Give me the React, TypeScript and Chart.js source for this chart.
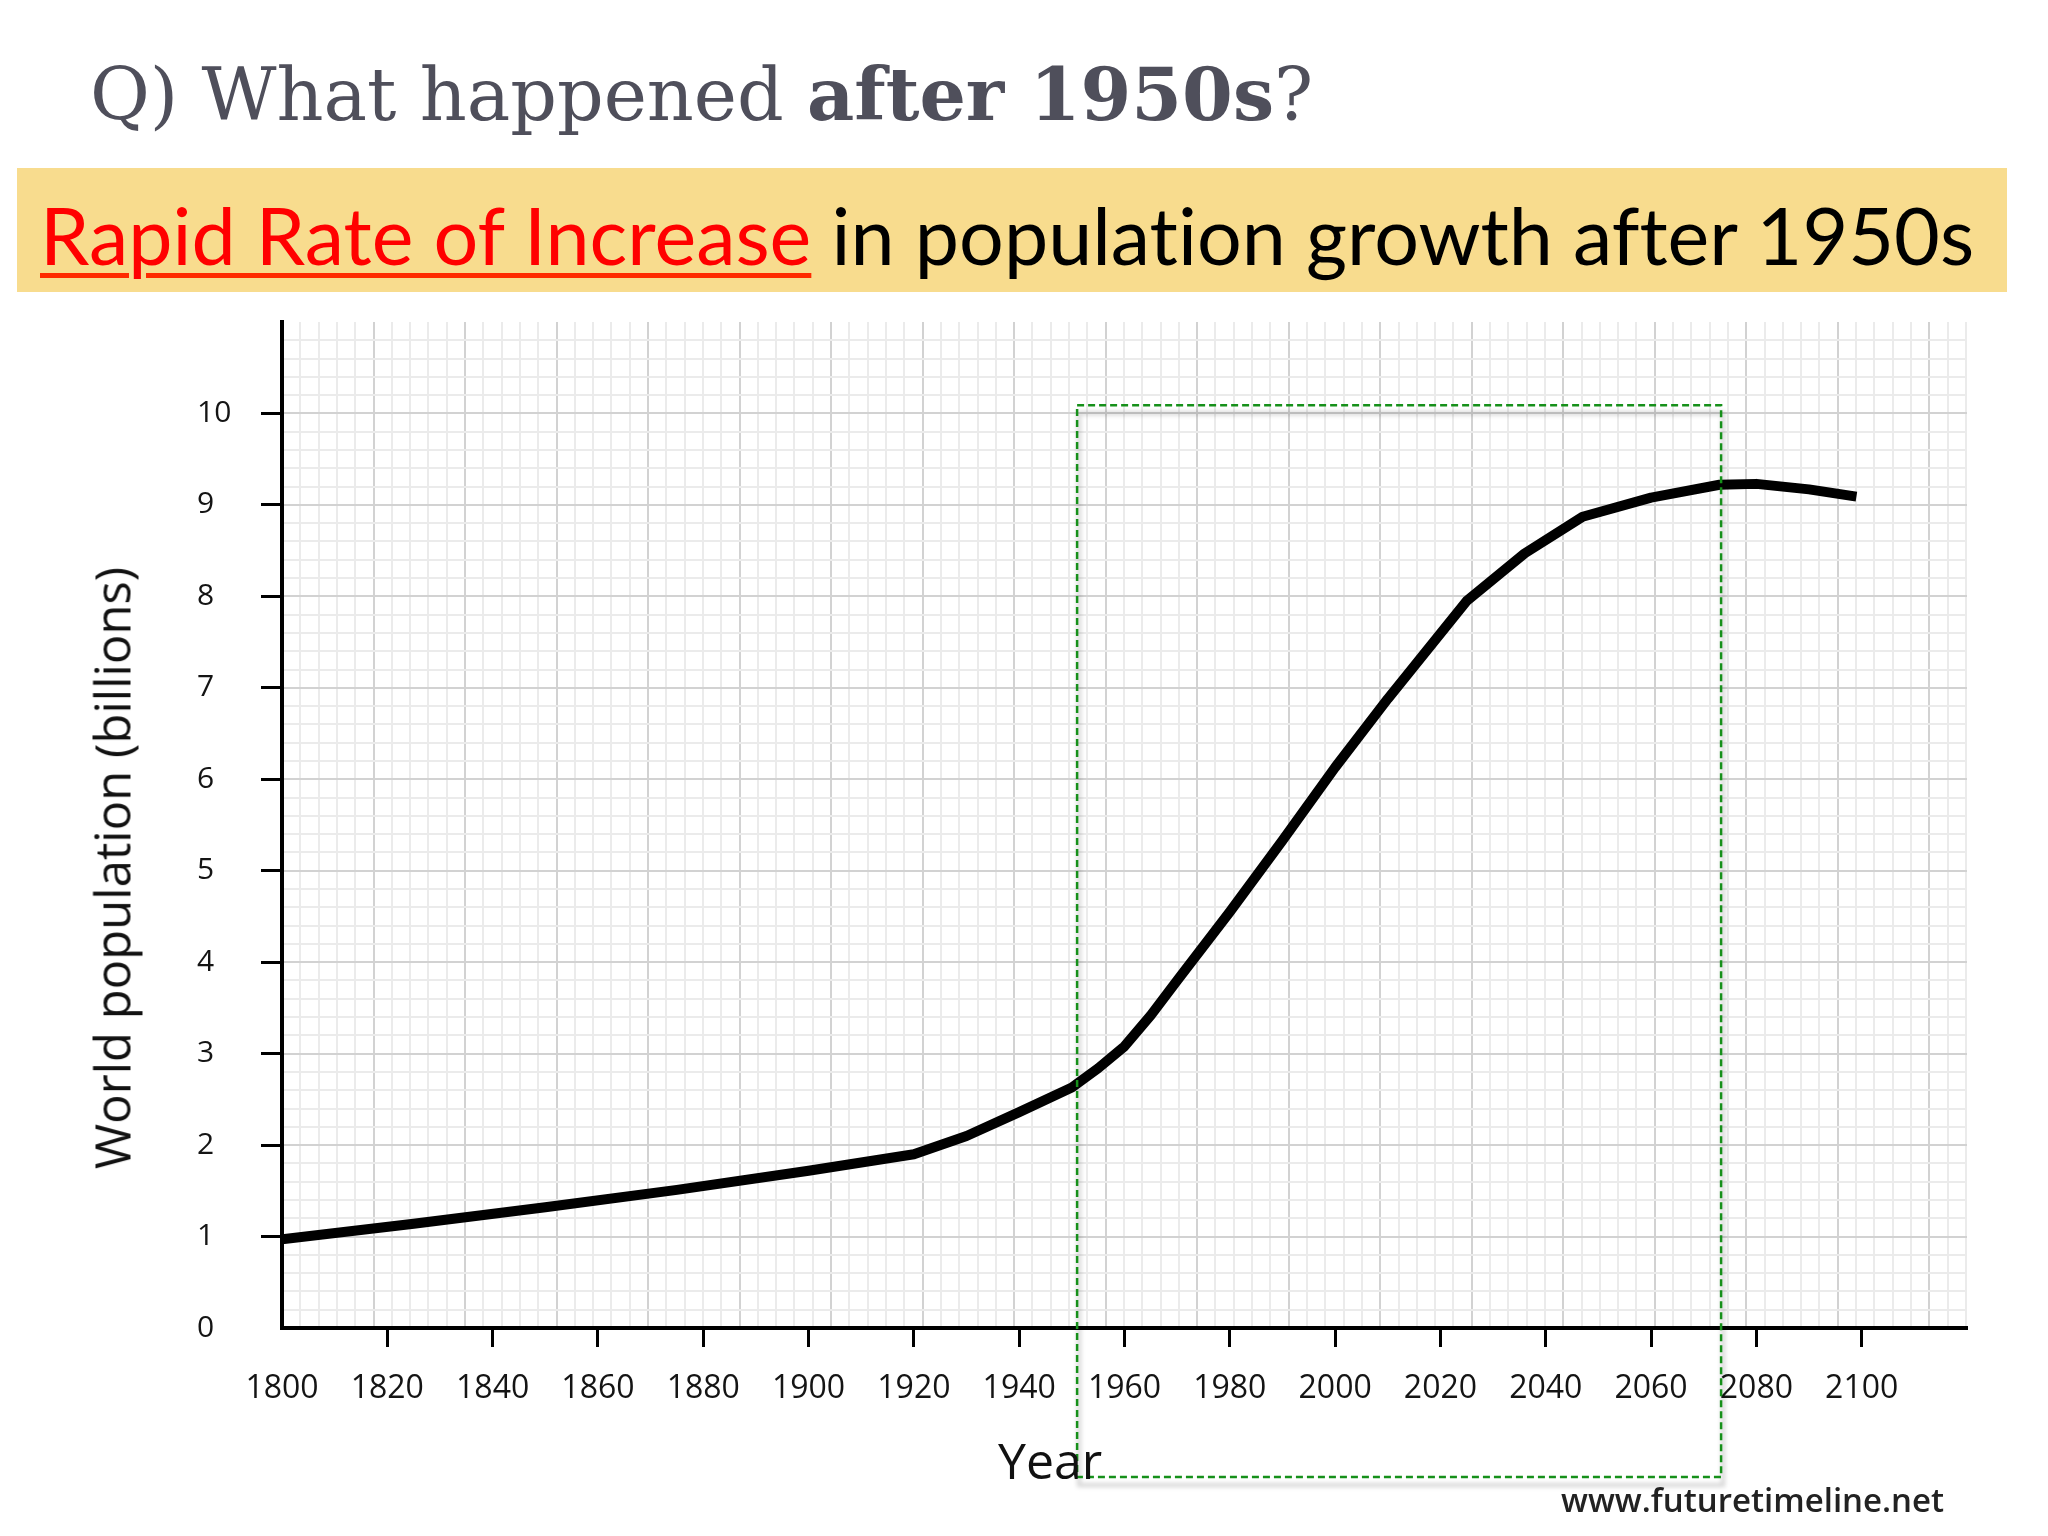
import React, { useEffect, useRef } from "react";
import { Chart, registerables } from "chart.js";

Chart.register(...registerables);

// ---- data ----
const years = [1800, 1825, 1850, 1875, 1900, 1920, 1930, 1940, 1950, 1955, 1960, 1965, 1970, 1980, 1990, 2000, 2010, 2025, 2036, 2047, 2060, 2073, 2080, 2090, 2099];
const population = [0.97, 1.14, 1.32, 1.51, 1.72, 1.9, 2.1, 2.36, 2.63, 2.84, 3.08, 3.42, 3.8, 4.55, 5.33, 6.13, 6.88, 7.95, 8.47, 8.87, 9.08, 9.22, 9.23, 9.17, 9.09];

const xTickYears = [1800, 1820, 1840, 1860, 1880, 1900, 1920, 1940, 1960, 1980, 2000, 2020, 2040, 2060, 2080, 2100];
const yTickValues = [0, 1, 2, 3, 4, 5, 6, 7, 8, 9, 10];

const xRange = [1800, 2120];
const yRange = [0, 11];

// graph-paper background: one square spans this many years horizontally
const yearsPerSquare = 17.38;

// highlighted period (dashed green box)
const highlightYears = [1951, 2073.3];
const highlightValues = [-1.63, 10.09];

const TICK_FONT = { family: "'Open Sans', sans-serif", size: 32 };

const isWhole = (v: number) => Math.abs(v - Math.round(v)) < 1e-6;

const highlightPlugin = {
  id: "highlightBox",
  afterDraw(chart: any) {
    const xs = chart.scales.x;
    const ys = chart.scales.y;
    const x1 = xs.getPixelForValue(highlightYears[0]);
    const x2 = xs.getPixelForValue(highlightYears[1]);
    const y1 = ys.getPixelForValue(highlightValues[1]);
    const y2 = ys.getPixelForValue(highlightValues[0]);
    const ctx = chart.ctx;
    ctx.save();
    // soft shadow
    ctx.filter = "blur(2px)";
    ctx.strokeStyle = "rgba(0,0,0,0.16)";
    ctx.lineWidth = 4;
    ctx.strokeRect(x1 + 2, y1 + 8, x2 - x1, y2 - y1);
    ctx.filter = "none";
    ctx.setLineDash([7, 4]);
    ctx.strokeStyle = "#16901a";
    ctx.lineWidth = 2.5;
    ctx.strokeRect(x1, y1, x2 - x1, y2 - y1);
    ctx.restore();
  },
};

export default function App() {
  const canvasRef = useRef<HTMLCanvasElement | null>(null);

  useEffect(() => {
    if (!canvasRef.current) return;
    const chart = new Chart(canvasRef.current, {
      type: "line",
      data: {
        datasets: [
          {
            data: years.map((yr, i) => ({ x: yr, y: population[i] })),
            borderColor: "#000",
            borderWidth: 10,
            pointRadius: 0,
            tension: 0,
            borderJoinStyle: "round",
            borderCapStyle: "butt",
            xAxisID: "x",
            yAxisID: "y",
          },
        ],
      },
      options: {
        responsive: false,
        animation: false,
        devicePixelRatio: 1,
        layout: { padding: { left: 197, top: 322, right: 81, bottom: 0 } },
        plugins: { legend: { display: false }, tooltip: { enabled: false } },
        scales: {
          x: {
            type: "linear",
            position: "bottom",
            min: xRange[0],
            max: xRange[1],
            afterFit: (s: any) => {
              s.height = 208;
            },
            border: { display: true, color: "#000", width: 4 },
            grid: {
              drawOnChartArea: false,
              drawTicks: true,
              tickLength: 19,
              tickWidth: 3,
              tickColor: (c: any) =>
                c.tick && c.tick.value > xRange[0] && xTickYears.includes(c.tick.value) ? "#000" : "rgba(0,0,0,0)",
            },
            ticks: {
              stepSize: 20,
              padding: 23,
              autoSkip: false,
              maxRotation: 0,
              color: "#141414",
              font: TICK_FONT,
              callback: (v: any) => (xTickYears.includes(v) ? String(v) : ""),
            },
          },
          xg: {
            type: "linear",
            position: "top",
            min: 0,
            max: (xRange[1] - xRange[0]) / yearsPerSquare,
            afterFit: (s: any) => {
              s.height = 0;
            },
            border: { display: false },
            grid: {
              drawTicks: false,
              lineWidth: 2,
              color: (c: any) => (c.tick && isWhole(c.tick.value) ? "#d2d2d2" : "#ebebeb"),
            },
            ticks: { display: false, stepSize: 0.2, includeBounds: false, autoSkip: false, maxTicksLimit: 1000 },
          },
          y: {
            type: "linear",
            position: "left",
            min: yRange[0],
            max: yRange[1],
            afterFit: (s: any) => {
              s.width = 85;
            },
            border: { display: true, color: "#000", width: 4 },
            grid: {
              drawOnChartArea: false,
              drawTicks: true,
              tickLength: 21,
              tickWidth: 3,
              tickColor: (c: any) =>
                c.tick && c.tick.value > 0 && yTickValues.includes(c.tick.value) ? "#000" : "rgba(0,0,0,0)",
            },
            ticks: {
              stepSize: 1,
              crossAlign: "far",
              autoSkip: false,
              color: "#141414",
              font: { family: "'Open Sans', sans-serif", size: 30 },
              callback: (v: any) => (yTickValues.includes(v) ? String(v) : ""),
            },
          },
          yg: {
            type: "linear",
            position: "right",
            min: yRange[0],
            max: yRange[1],
            afterFit: (s: any) => {
              s.width = 0;
            },
            border: { display: false },
            grid: {
              drawTicks: false,
              lineWidth: 2,
              color: (c: any) =>
                c.tick && c.tick.value >= yRange[1] ? "rgba(0,0,0,0)" : c.tick && isWhole(c.tick.value) ? "#d2d2d2" : "#ebebeb",
            },
            ticks: { display: false, stepSize: 0.2, autoSkip: false, maxTicksLimit: 1000 },
          },
        },
      } as any,
      plugins: [highlightPlugin],
    });
    return () => chart.destroy();
  }, []);

  return (
    <div style={{ position: "fixed", left: 0, top: 0, width: 2048, height: 1536, background: "#fff", overflow: "hidden" }}>
      <div
        style={{
          position: "absolute",
          left: 90,
          top: 58,
          fontFamily: "'DejaVu Serif', serif",
          fontSize: 73,
          lineHeight: 1,
          color: "#4f4f5b",
          whiteSpace: "nowrap",
        }}
      >
        Q) What happened <b>after 1950s</b>?
      </div>
      <div style={{ position: "absolute", left: 17, top: 168, width: 1990, height: 124, background: "#f8dc8e" }} />
      <div
        style={{
          position: "absolute",
          left: 40,
          top: 195,
          fontFamily: "Lato, sans-serif",
          fontSize: 79,
          lineHeight: 1,
          color: "#000",
          whiteSpace: "nowrap",
          fontVariantLigatures: "none",
        }}
      >
        <span
          style={{
            color: "#ff0000",
            textDecoration: "underline",
            textDecorationColor: "#ff2a00",
            textDecorationThickness: "5px",
            textUnderlineOffset: "8px",
          }}
        >
          Rapid Rate of Increase
        </span>{" "}
        in population growth after 1950s
      </div>
      <canvas ref={canvasRef} width={2048} height={1536} style={{ position: "absolute", left: 0, top: 0, width: 2048, height: 1536 }} />
      <div
        style={{
          position: "absolute",
          left: 112,
          top: 868,
          transform: "translate(-50%, -50%) rotate(-90deg)",
          fontFamily: "'Open Sans', sans-serif",
          fontSize: 49,
          lineHeight: 1,
          color: "#111",
          whiteSpace: "nowrap",
        }}
      >
        World population (billions)
      </div>
      <div
        style={{
          position: "absolute",
          left: 998,
          top: 1435,
          fontFamily: "'Open Sans', sans-serif",
          fontSize: 50,
          lineHeight: 1,
          color: "#111",
          whiteSpace: "nowrap",
        }}
      >
        Year
      </div>
      <div
        style={{
          position: "absolute",
          left: 1561,
          top: 1483,
          fontFamily: "'Open Sans', sans-serif",
          fontWeight: 600,
          fontSize: 33,
          lineHeight: 1,
          color: "#222",
          whiteSpace: "nowrap",
        }}
      >
        www.futuretimeline.net
      </div>
    </div>
  );
}
